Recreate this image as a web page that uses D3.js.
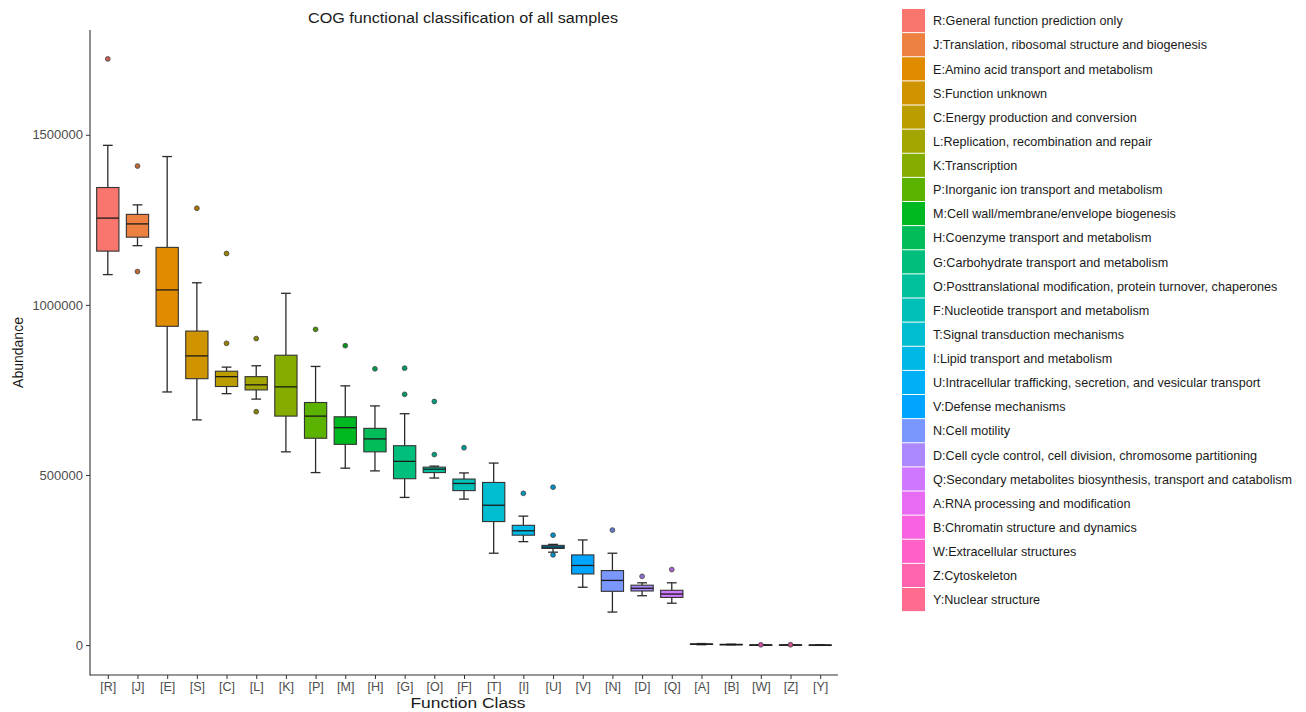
<!DOCTYPE html>
<html>
<head>
<meta charset="utf-8">
<script src="https://cdn.jsdelivr.net/npm/d3@7"></script>
<style>
  html, body { margin: 0; padding: 0; background: #fff; }
  svg { display: block; font-family: "Liberation Sans", Arial, Helvetica, sans-serif; }
</style>
</head>
<body>
<svg id="chart" width="1306" height="712"></svg>
<script>
const categories = ["R","J","E","S","C","L","K","P","M","H","G","O","F","T","I","U","V","N","D","Q","A","B","W","Z","Y"];
const descriptions = [
  "R:General function prediction only",
  "J:Translation, ribosomal structure and biogenesis",
  "E:Amino acid transport and metabolism",
  "S:Function unknown",
  "C:Energy production and conversion",
  "L:Replication, recombination and repair",
  "K:Transcription",
  "P:Inorganic ion transport and metabolism",
  "M:Cell wall/membrane/envelope biogenesis",
  "H:Coenzyme transport and metabolism",
  "G:Carbohydrate transport and metabolism",
  "O:Posttranslational modification, protein turnover, chaperones",
  "F:Nucleotide transport and metabolism",
  "T:Signal transduction mechanisms",
  "I:Lipid transport and metabolism",
  "U:Intracellular trafficking, secretion, and vesicular transport",
  "V:Defense mechanisms",
  "N:Cell motility",
  "D:Cell cycle control, cell division, chromosome partitioning",
  "Q:Secondary metabolites biosynthesis, transport and catabolism",
  "A:RNA processing and modification",
  "B:Chromatin structure and dynamics",
  "W:Extracellular structures",
  "Z:Cytoskeleton",
  "Y:Nuclear structure"
];
const whiskerLow  = [1089000,1174000, 744000, 662000, 739000, 723000, 568000, 507000, 520000, 512000, 434000, 491000, 429000, 270000, 304000, 273000, 170000,  97000, 145000, 123000, 1000,  800, 100, 150,  50];
const q1          = [1158000,1199000, 937000, 783000, 760000, 750000, 673000, 608000, 590000, 568000, 489000, 507000, 454000, 363000, 323000, 284000, 209000, 158000, 159000, 140000, 2000, 1200, 250, 300, 100];
const median      = [1255000,1238000,1044000, 850000, 789000, 765000, 759000, 673000, 639000, 606000, 540000, 517000, 475000, 411000, 336000, 288000, 234000, 190000, 167000, 150000, 2600, 1500, 350, 400, 150];
const q3          = [1345000,1266000,1169000, 923000, 805000, 789000, 852000, 713000, 671000, 637000, 586000, 523000, 488000, 478000, 352000, 293000, 265000, 219000, 176000, 161000, 3400, 2000, 450, 500, 200];
const whiskerHigh = [1469000,1294000,1436000,1065000, 817000, 821000,1034000, 819000, 762000, 703000, 680000, 526000, 506000, 535000, 379000, 296000, 309000, 270000, 183000, 183000, 4500, 2600, 650, 700, 300];
const outliers = [
  [1723000],[1408000,1098000],[],[1284000],[1151000,887000],[901000,686000],[],[928000],[880000],[812000],
  [814000,737000],[716000,560000],[580000],[],[446000],[464000,323000,265000],[],[338000],[202000],[222000],
  [],[],[800],[900],[]
];
const yTicks = [0, 500000, 1000000, 1500000];
const titleText = "COG functional classification of all samples";
const xTitle = "Function Class";
const yTitle = "Abundance";

// ggplot2 hue palette (polarLUV, c=100, l=65)
function hclLuv(h, c, l) {
  const Xn = 95.047, Yn = 100.0, Zn = 108.883;
  const hr = h * Math.PI / 180;
  const u = c * Math.cos(hr), v = c * Math.sin(hr);
  const Y = l > 8 ? Yn * Math.pow((l + 16) / 116, 3) : Yn * l / 903.3;
  const den = Xn + 15 * Yn + 3 * Zn;
  const un = 4 * Xn / den, vn = 9 * Yn / den;
  const up = u / (13 * l) + un, vp = v / (13 * l) + vn;
  const X = 9.0 * Y * up / (4 * vp);
  const Z = -X / 3 - 5 * Y + 3 * Y / vp;
  const xx = X / 100, yy = Y / 100, zz = Z / 100;
  let r = 3.240479 * xx - 1.537150 * yy - 0.498535 * zz;
  let g = -0.969256 * xx + 1.875992 * yy + 0.041556 * zz;
  let b = 0.055648 * xx - 0.204043 * yy + 1.057311 * zz;
  const gam = t => { t = Math.max(0, Math.min(1, t)); return t <= 0.0031308 ? 12.92 * t : 1.055 * Math.pow(t, 1 / 2.4) - 0.055; };
  return d3.rgb(gam(r) * 255, gam(g) * 255, gam(b) * 255).formatHex();
}

(function () {
const n = categories.length;
const colors = categories.map((c, i) => hclLuv(15 + 360 * i / n, 100, 65));

const svg = d3.select("#chart");
const pLeft = 90, pRight = 838, pTop = 30, pBottom = 675;

const unit = (pRight - pLeft) / (n - 1 + 1.2);
const x = d3.scalePoint().domain(categories).range([pLeft + 0.6 * unit, pRight - 0.6 * unit]);
const y = d3.scaleLinear().domain([-88000, 1808000]).range([pBottom, pTop]);
const boxW = 0.75 * unit;
const capW = 0.33 * unit;

const data = categories.map((c, i) => ({
  c, i, color: colors[i], wl: whiskerLow[i], q1: q1[i], med: median[i], q3: q3[i], wh: whiskerHigh[i], out: outliers[i]
}));

const g = svg.append("g");
const lineColor = "#2b2b2b";

const boxes = g.selectAll("g.box").data(data).enter().append("g").attr("class", "box");
boxes.append("line").attr("x1", d => x(d.c)).attr("x2", d => x(d.c))
  .attr("y1", d => y(d.wh)).attr("y2", d => y(d.q3)).attr("stroke", lineColor).attr("stroke-width", 1.3);
boxes.append("line").attr("x1", d => x(d.c)).attr("x2", d => x(d.c))
  .attr("y1", d => y(d.q1)).attr("y2", d => y(d.wl)).attr("stroke", lineColor).attr("stroke-width", 1.3);
boxes.append("line").attr("x1", d => x(d.c) - capW / 2).attr("x2", d => x(d.c) + capW / 2)
  .attr("y1", d => y(d.wh)).attr("y2", d => y(d.wh)).attr("stroke", lineColor).attr("stroke-width", 1.3);
boxes.append("line").attr("x1", d => x(d.c) - capW / 2).attr("x2", d => x(d.c) + capW / 2)
  .attr("y1", d => y(d.wl)).attr("y2", d => y(d.wl)).attr("stroke", lineColor).attr("stroke-width", 1.3);
boxes.append("rect").attr("x", d => x(d.c) - boxW / 2).attr("width", boxW)
  .attr("y", d => y(d.q3)).attr("height", d => Math.max(0.5, y(d.q1) - y(d.q3)))
  .attr("fill", d => d.color).attr("stroke", "#333333").attr("stroke-width", 1.1);
boxes.append("line").attr("x1", d => x(d.c) - boxW / 2).attr("x2", d => x(d.c) + boxW / 2)
  .attr("y1", d => y(d.med)).attr("y2", d => y(d.med)).attr("stroke", "#1a1a1a").attr("stroke-width", 1.3);
boxes.selectAll("circle").data(d => d.out.map(v => ({ v, c: d.c, color: d.color }))).enter().append("circle")
  .attr("cx", d => x(d.c)).attr("cy", d => y(d.v)).attr("r", 2.4)
  .attr("fill", d => d3.color(d.color).darker(0.6)).attr("stroke", "#444").attr("stroke-width", 0.8);

const yAxis = d3.axisLeft(y).tickValues(yTicks).tickSize(4).tickPadding(3).tickFormat(d3.format("d"));
const ya = svg.append("g").attr("transform", `translate(${pLeft},0)`).call(yAxis);
ya.select(".domain").remove();
ya.selectAll(".tick line").attr("stroke", "#333");
ya.selectAll(".tick text").attr("fill", "#4d4d4d").attr("font-size", 13).attr("font-family", "Liberation Sans, Arial, sans-serif");

const xAxis = d3.axisBottom(x).tickSize(4).tickPadding(3).tickFormat(d => "[" + d + "]");
const xa = svg.append("g").attr("transform", `translate(0,${pBottom})`).call(xAxis);
xa.select(".domain").remove();
xa.selectAll(".tick line").attr("stroke", "#333");
xa.selectAll(".tick text").attr("fill", "#4d4d4d").attr("font-size", 12.5).attr("font-family", "Liberation Sans, Arial, sans-serif");

svg.append("line").attr("x1", pLeft).attr("x2", pLeft).attr("y1", pTop).attr("y2", pBottom + 0.5).attr("stroke", "#333").attr("stroke-width", 1.1);
svg.append("line").attr("x1", pLeft).attr("x2", pRight).attr("y1", pBottom).attr("y2", pBottom).attr("stroke", "#333").attr("stroke-width", 1.1);

svg.append("text").attr("x", 463).attr("y", 22.5).attr("text-anchor", "middle")
  .attr("font-size", 15.3).attr("textLength", 310).attr("lengthAdjust", "spacingAndGlyphs")
  .attr("fill", "#1a1a1a").text(titleText);
svg.append("text").attr("x", 468).attr("y", 708).attr("text-anchor", "middle")
  .attr("font-size", 15.3).attr("textLength", 115).attr("lengthAdjust", "spacingAndGlyphs")
  .attr("fill", "#1a1a1a").text(xTitle);
svg.append("text").attr("transform", `translate(23,${(pTop + pBottom) / 2}) rotate(-90)`).attr("text-anchor", "middle")
  .attr("font-size", 14).attr("fill", "#1a1a1a").text(yTitle);

const rowH = 24.125;
const leg = svg.append("g").attr("transform", "translate(902,9)");
const items = leg.selectAll("g").data(data).enter().append("g").attr("transform", (d, i) => `translate(0,${i * rowH})`);
items.append("rect").attr("x", 0).attr("y", 0).attr("width", 23).attr("height", rowH - 1)
  .attr("fill", d => d.color);
items.append("text").attr("x", 31).attr("y", rowH / 2 + 4.2).attr("font-size", 12.6).attr("fill", "#1a1a1a")
  .text((d, i) => descriptions[i]);
})();
</script>
</body>
</html>
